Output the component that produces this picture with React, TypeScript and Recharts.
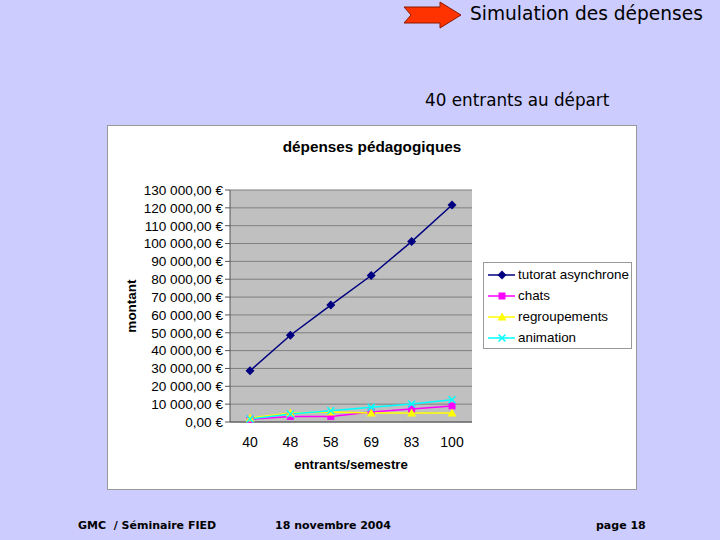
import React from 'react'
import { LineChart, Line, XAxis, YAxis, CartesianGrid, Legend } from 'recharts'

const entrants = ['40', '48', '58', '69', '83', '100']
const tutorat = [28700, 48600, 65500, 82100, 101100, 121600]
const chats = [1500, 3100, 3100, 5600, 7300, 9000]
const regroupements = [2200, 5000, 5600, 5000, 5000, 5000]
const animation = [1700, 4500, 6300, 8200, 10100, 12500]
const yTicks = [0, 10000, 20000, 30000, 40000, 50000, 60000, 70000, 80000, 90000, 100000, 110000, 120000, 130000]

const data = entrants.map((e, i) => ({
    entrants: e,
    tutorat: tutorat[i],
    chats: chats[i],
    regroupements: regroupements[i],
    animation: animation[i],
}))

const series = [
    { key: 'tutorat', name: 'tutorat asynchrone', color: '#000080', shape: 'diamond' },
    { key: 'chats', name: 'chats', color: '#FF00FF', shape: 'square' },
    { key: 'regroupements', name: 'regroupements', color: '#FFFF00', shape: 'triangle' },
    { key: 'animation', name: 'animation', color: '#00FFFF', shape: 'cross' },
]

const arial = '"Liberation Sans", Arial, sans-serif'
const comic = '"Comic Sans MS", "DejaVu Sans", sans-serif'

function euro(v: number) {
    return String(v).replace(/\B(?=(\d{3})+(?!\d))/g, ' ') + ',00 €'
}

function Marker({ cx, cy, shape, color }: { cx: number; cy: number; shape: string; color: string }) {
    if (cx == null || cy == null) return null
    if (shape === 'diamond')
        return <path d={`M${cx},${cy - 4.5}L${cx + 4.5},${cy}L${cx},${cy + 4.5}L${cx - 4.5},${cy}Z`} fill={color} />
    if (shape === 'square') return <rect x={cx - 3.5} y={cy - 3.5} width={7} height={7} fill={color} />
    if (shape === 'triangle')
        return <path d={`M${cx},${cy - 4.5}L${cx + 4.5},${cy + 3.5}L${cx - 4.5},${cy + 3.5}Z`} fill={color} />
    return (
        <path
            d={`M${cx - 3.5},${cy - 3.5}L${cx + 3.5},${cy + 3.5}M${cx + 3.5},${cy - 3.5}L${cx - 3.5},${cy + 3.5}`}
            stroke={color}
            strokeWidth={1.5}
            fill="none"
        />
    )
}

function LegendBox() {
    return (
        <div
            style={{
                width: 147,
                height: 84,
                border: '1px solid #999',
                background: '#fff',
                fontFamily: arial,
                fontSize: 13.4,
                paddingTop: 1,
            }}
        >
            {series.map(s => (
                <div key={s.key} style={{ display: 'flex', alignItems: 'center', height: 21 }}>
                    <svg width={32} height={12} style={{ marginLeft: 2 }}>
                        <line x1={2} y1={6} x2={29} y2={6} stroke={s.color} strokeWidth={1.5} />
                        <Marker cx={16} cy={6} shape={s.shape} color={s.color} />
                    </svg>
                    <span style={{ color: '#000' }}>{s.name}</span>
                </div>
            ))}
        </div>
    )
}

export default function App() {
    return (
        <div style={{ position: 'absolute', left: 0, top: 0, width: 720, height: 540, background: '#CCCCFF', overflow: 'hidden' }}>
            <svg width={62} height={30} style={{ position: 'absolute', left: 402, top: 0 }}>
                <polygon points="2,7 38,7 38,2 59,15 38,28 38,23 2,23 9,15" fill="#FF3300" stroke="#8B1A00" strokeWidth={1} />
            </svg>
            <div style={{ position: 'absolute', left: 470, top: 3, fontFamily: comic, fontSize: 18.6, color: '#000' }}>
                Simulation des dépenses
            </div>
            <div style={{ position: 'absolute', left: 425, top: 90, fontFamily: comic, fontSize: 16.8, color: '#000' }}>
                40 entrants au départ
            </div>

            <div style={{ position: 'absolute', left: 107, top: 125, width: 528, height: 363, border: '1px solid #999', background: '#fff' }}>
                <div
                    style={{
                        position: 'absolute',
                        left: 0,
                        width: 528,
                        top: 12,
                        textAlign: 'center',
                        fontFamily: arial,
                        fontWeight: 'bold',
                        fontSize: 15.3,
                        color: '#000',
                    }}
                >
                    dépenses pédagogiques
                </div>
                <LineChart
                    width={528}
                    height={363}
                    data={data}
                    margin={{ top: 64, right: 164, bottom: 17, left: 0 }}
                    style={{ fontFamily: arial }}
                >
                    <CartesianGrid vertical={false} fill="#C0C0C0" stroke="#7F7F7F" />
                    <XAxis
                        dataKey="entrants"
                        height={50}
                        padding={{ left: 20, right: 20 }}
                        tick={{ fill: '#000', fontSize: 14 }}
                        tickLine={false}
                        tickMargin={9}
                        axisLine={{ stroke: '#555' }}
                        label={{ value: 'entrants/semestre', position: 'insideBottom', offset: 3, style: { fontWeight: 'bold', fontSize: 13.2, fill: '#000' } }}
                    />
                    <YAxis
                        width={122}
                        domain={[0, 130000]}
                        ticks={yTicks}
                        interval={0}
                        tickFormatter={euro}
                        tick={{ fill: '#000', fontSize: 13.6 }}
                        tickSize={5}
                        tickLine={{ stroke: '#555' }}
                        axisLine={{ stroke: '#555' }}
                        label={{
                            value: 'montant',
                            angle: -90,
                            position: 'insideLeft',
                            offset: 23,
                            style: { fontWeight: 'bold', fontSize: 13.5, fill: '#000', textAnchor: 'middle' },
                        }}
                    />
                    <Legend
                        layout="vertical"
                        align="center"
                        verticalAlign="middle"
                        content={() => <LegendBox />}
                        wrapperStyle={{ left: 375, top: 136, width: 149, height: 86 }}
                    />
                    {series.map(s => (
                        <Line
                            key={s.key}
                            type="linear"
                            dataKey={s.key}
                            name={s.name}
                            stroke={s.color}
                            strokeWidth={1.5}
                            isAnimationActive={false}
                            dot={(p: any) => <Marker key={`${s.key}-${p.index}`} cx={p.cx} cy={p.cy} shape={s.shape} color={s.color} />}
                            activeDot={false}
                        />
                    ))}
                </LineChart>
            </div>

            <div style={{ position: 'absolute', left: 78, top: 519, fontFamily: comic, fontSize: 11, fontWeight: 'bold' }}>
                GMC&nbsp; / Séminaire FIED
            </div>
            <div style={{ position: 'absolute', left: 275, top: 519, fontFamily: comic, fontSize: 11, fontWeight: 'bold' }}>
                18 novembre 2004
            </div>
            <div style={{ position: 'absolute', left: 596, top: 519, fontFamily: comic, fontSize: 11, fontWeight: 'bold' }}>
                page 18
            </div>
        </div>
    )
}
